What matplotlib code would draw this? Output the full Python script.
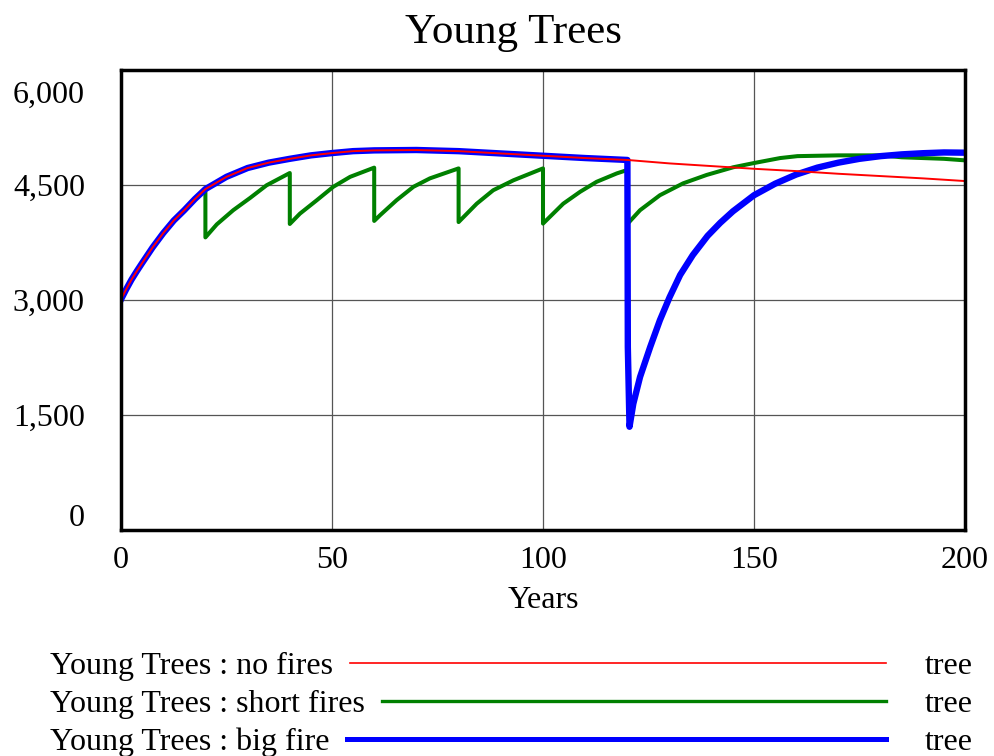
import numpy as np
import matplotlib
matplotlib.use("Agg")
import matplotlib.pyplot as plt
from matplotlib.lines import Line2D
from matplotlib.transforms import ScaledTranslation

plt.rcParams['font.family'] = ['Liberation Serif', 'DejaVu Serif']

# --- data (Years -> tree) --------------------------------------------------
years_no_fire = [0, 1.25, 2.5, 3.75, 5, 7.5, 10, 12.5, 15, 17.5, 20, 25, 30, 35,
                 40, 45, 50, 55, 60, 70, 80, 90, 100, 110, 120, 130, 140, 150,
                 160, 170, 180, 190, 200]
no_fires = [3000, 3135, 3260, 3370, 3475, 3680, 3865, 4030, 4165, 4310, 4440,
            4600, 4715, 4785, 4835, 4880, 4910, 4935, 4945, 4950, 4935, 4905,
            4875, 4845, 4820, 4775, 4740, 4705, 4675, 4640, 4610, 4580, 4545]

years_short = [0, 1.25, 2.5, 3.75, 5, 7.5, 10, 12.5, 15, 17.5, 20, 20, 22.7,
               26.6, 30.6, 34.5, 40, 40, 42.4, 46.4, 50.3, 54.3, 60, 60, 61.4,
               65.3, 69.3, 73.2, 80, 80, 84.3, 88.2, 93, 100, 100, 104.8, 108.8,
               112.7, 117.5, 120, 120, 123, 127.7, 133.2, 138.8, 145.1, 150,
               156.2, 160.3, 170, 180, 185, 190, 195, 200]
short_fires = [3000, 3135, 3260, 3370, 3475, 3680, 3865, 4030, 4165, 4310, 4440,
               3810, 3980, 4165, 4325, 4490, 4650, 3985, 4120, 4295, 4470, 4600,
               4720, 4025, 4100, 4295, 4470, 4580, 4710, 4010, 4250, 4425, 4555,
               4710, 3990, 4250, 4405, 4535, 4645, 4690, 3985, 4165, 4360, 4515,
               4625, 4725, 4780, 4845, 4870, 4880, 4880, 4855, 4845, 4835, 4815]

years_big = [0, 1.25, 2.5, 3.75, 5, 7.5, 10, 12.5, 15, 17.5, 20, 25, 30, 35,
             40, 45, 50, 55, 60, 70, 80, 90, 100, 110, 120, 120.1, 120.5,
             121.4, 123, 125.4, 127.7, 130, 132.5, 135.5, 139, 142, 145, 150,
             155, 160, 165, 170, 175, 180, 185, 190, 195, 200]
big_fire = [3000, 3135, 3260, 3370, 3475, 3680, 3865, 4030, 4165, 4310, 4440,
            4600, 4715, 4785, 4835, 4880, 4910, 4935, 4945, 4950, 4935, 4905,
            4875, 4845, 4820, 2380, 1340, 1640, 1990, 2380, 2730, 3030, 3320,
            3580, 3830, 4000, 4150, 4360, 4510, 4630, 4720, 4785, 4835, 4870,
            4893, 4908, 4918, 4915]

x_ticks = [0, 50, 100, 150, 200]
y_ticks = [0, 1500, 3000, 4500, 6000]

series = [
    ("Young Trees : no fires", "#ff0000", 1.2),
    ("Young Trees : short fires", "#008000", 2.4),
    ("Young Trees : big fire", "#0000ff", 3.6),
]
unit = "tree"

# --- figure -----------------------------------------------------------------
fig = plt.figure(figsize=(9.94, 7.56), dpi=100)
ax = fig.add_axes([121 / 994, 1 - 529.5 / 756, 844 / 994, 460 / 756])

ax.plot(years_short, short_fires, color="#008000", lw=2.9, zorder=3)
ax.plot(years_big, big_fire, color="#0000ff", lw=4.6, zorder=4)
ax.plot(years_no_fire, no_fires, color="#ff0000", lw=1.4, zorder=5)

ax.set_xlim(0, 200)
ax.set_ylim(0, 6000)
ax.set_xticks(x_ticks)
ax.set_yticks(y_ticks)
ax.set_yticklabels([f"{v:,}" for v in y_ticks])
ax.tick_params(length=0, labelsize=23)
ax.tick_params(axis='y', pad=26)
ax.tick_params(axis='x', pad=12)
# Vensim keeps the end labels inside the frame
ylabels = ax.get_yticklabels()
ylabels[0].set_transform(ylabels[0].get_transform()
                         + ScaledTranslation(0, 0.14, fig.dpi_scale_trans))
ylabels[-1].set_transform(ylabels[-1].get_transform()
                          + ScaledTranslation(0, -0.22, fig.dpi_scale_trans))
ax.grid(True, color="#555555", lw=0.9)
for s in ax.spines.values():
    s.set_linewidth(2.5)
    s.set_zorder(6)

ax.set_xlabel("Years", fontsize=23, labelpad=8)
fig.text(513 / 994, 1 - 43 / 756, "Young Trees", fontsize=31,
         ha="center", va="baseline")

# --- legend rows drawn by hand (Vensim style) ----------------------------
row_y = [662.5, 701, 739]          # line centres in pixels from top
fig.canvas.draw()
rend = fig.canvas.get_renderer()
for (label, color, lw), y in zip(series, row_y):
    yf = 1 - y / 756
    t = fig.text(50 / 994, yf, label, fontsize=23, ha="left", va="center_baseline")
    ext = t.get_window_extent(renderer=rend)
    x0 = (ext.x1 + 17) / 994
    fig.add_artist(Line2D([x0, 886 / 994], [yf, yf], color=color, lw=lw,
                          transform=fig.transFigure))
    fig.text(925 / 994, yf, unit, fontsize=23, ha="left", va="center_baseline")

fig.savefig("out.png", dpi=100)
